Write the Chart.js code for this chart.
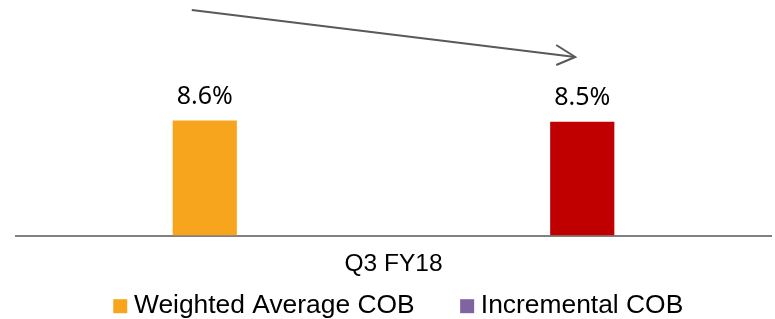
<!DOCTYPE html>
<html><head><meta charset="utf-8">
<script src="https://cdn.jsdelivr.net/npm/chart.js@4/dist/chart.umd.min.js"></script>
<style>html,body{margin:0;padding:0;background:#fff}#w{width:775px;height:319px}</style>
</head><body><div id="w"><canvas id="c"></canvas></div>
<script>
const categories = ['Q3 FY18'];
const seriesNames = ['Weighted Average COB', 'Incremental COB'];
const weightedAvg = [8.6];
const incremental = [8.5];
const barColors = ['#F7A51C', '#C00000'];
const legendColors = ['#F7A51C', '#8064A2'];

const LEGEND_PAD = 52;

const valueLabels = {
  id: 'valueLabels',
  afterLayout(chart) {
    // keep wide horizontal spacing between legend items but a compact legend row
    const lg = chart.legend;
    if (lg) {
      lg.top = lg.top - LEGEND_PAD;
      lg.left += 8; lg.right += 8;
    }
  },
  afterDatasetsDraw(chart) {
    const ctx = chart.ctx;
    ctx.save();
    ctx.font = '25px "Noto Sans"';
    ctx.fillStyle = '#000';
    ctx.textAlign = 'center';
    ctx.textBaseline = 'bottom';
    chart.data.datasets.forEach((ds, i) => {
      chart.getDatasetMeta(i).data.forEach((bar, j) => {
        ctx.fillText(ds.data[j].toFixed(1) + '%', bar.x, bar.y - 11);
      });
    });
    // trend arrow from first series to second
    const a = chart.getDatasetMeta(0).data[0];
    const b = chart.getDatasetMeta(1).data[0];
    const top = chart.chartArea.top;
    const x1 = a.x - 13, y1 = top + 10;
    const x2 = b.x - 7, y2 = top + 57;
    ctx.strokeStyle = '#595959';
    ctx.lineWidth = 2;
    ctx.beginPath();
    ctx.moveTo(x1, y1); ctx.lineTo(x2, y2); ctx.stroke();
    ctx.beginPath();
    ctx.moveTo(x2 - 19, y2 - 12); ctx.lineTo(x2, y2); ctx.lineTo(x2 - 19, y2 + 8);
    ctx.stroke();
    ctx.restore();
  }
};

new Chart(document.getElementById('c'), {
  type: 'bar',
  data: {
    labels: categories,
    datasets: [
      { label: seriesNames[0], data: weightedAvg, backgroundColor: barColors[0] },
      { label: seriesNames[1], data: incremental, backgroundColor: barColors[1] }
    ]
  },
  options: {
    responsive: true, maintainAspectRatio: false, animation: false,
    layout: { padding: { left: 16, right: 4, top: 0, bottom: 0 } },
    categoryPercentage: 1.0, barPercentage: 0.17,
    scales: {
      x: {
        grid: { display: false, drawTicks: false },
        border: { display: true, color: '#808080', width: 2 },
        ticks: { color: '#000', font: { family: '"Liberation Sans", Arial', size: 24.5 }, padding: 14 }
      },
      y: { display: false, min: 0, max: 17.6 }
    },
    plugins: {
      tooltip: { enabled: false },
      legend: {
        position: 'bottom',
        maxHeight: 26,
        labels: {
          color: '#000',
          font: { family: '"Liberation Sans", Arial', size: 26.4 },
          usePointStyle: true, pointStyle: 'rect',
          boxWidth: 1, boxHeight: 14, padding: LEGEND_PAD,
          generateLabels(chart) {
            return chart.data.datasets.map((ds, i) => ({
              text: ds.label, fillStyle: legendColors[i], strokeStyle: legendColors[i],
              lineWidth: 0, pointStyle: 'rect', datasetIndex: i, hidden: false, fontColor: '#000'
            }));
          }
        }
      }
    }
  },
  plugins: [valueLabels]
});
</script></body></html>
